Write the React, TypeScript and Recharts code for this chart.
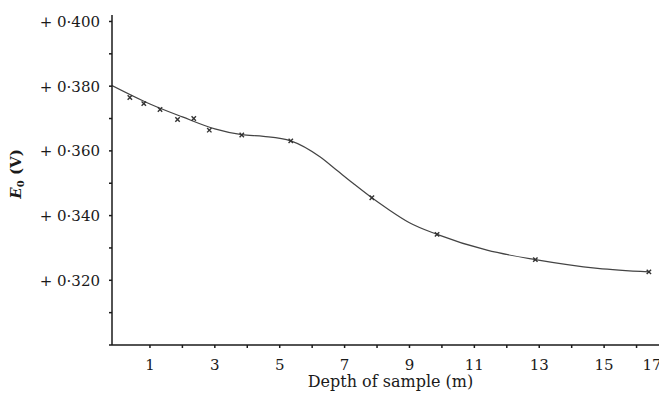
import React from 'react'
import {
  ComposedChart,
  Line,
  Scatter,
  XAxis,
  YAxis,
  Label,
} from 'recharts'

// measured samples (crosses)
const sampleDepth = [0.38, 0.81, 1.31, 1.85, 2.35, 2.83, 3.83, 5.34, 7.84, 9.85, 12.88, 16.38]
const sampleE0 = [0.3765, 0.3746, 0.3728, 0.3697, 0.37, 0.3664, 0.3649, 0.3631, 0.3455, 0.3342, 0.3264, 0.3226]

// hand-drawn smooth curve through the samples
const curveDepth = [-0.17, 1, 2, 3, 3.83, 4.5, 5.34, 6.25, 6.76, 7.27, 7.84, 8.31, 9, 9.85, 11.39, 12.88, 14.8, 16.38]
const curveE0 = [0.3802, 0.3745, 0.3705, 0.3668, 0.365, 0.3645, 0.3631, 0.3581, 0.354, 0.3499, 0.3455, 0.3422, 0.3378, 0.3342, 0.3293, 0.3264, 0.3237, 0.3226]

const xTicks = [1, 2, 3, 4, 5, 6, 7, 8, 9, 10, 11, 12, 13, 14, 15, 16, 17]
const yTicks = [0.3, 0.31, 0.32, 0.33, 0.34, 0.35, 0.36, 0.37, 0.38, 0.39, 0.4]
const yLabelled = [0.32, 0.34, 0.36, 0.38, 0.4]

const samples = sampleDepth.map((d, i) => ({ d, e: sampleE0[i] }))
const curve = curveDepth.map((d, i) => ({ d, e: curveE0[i] }))

const FONT = '"DejaVu Serif", "Liberation Serif", serif'
const INK = '#1a1a1a'

function fmtY(v: number) {
  const hit = yLabelled.some((t) => Math.abs(t - v) < 1e-6)
  return hit ? `+ 0·${Math.round(v * 1000)}` : ''
}

// odd depths only; keep the last label inside the page edge
function XTick(props: any) {
  const { x, y, payload } = props
  const v = payload.value
  if (v % 2 !== 1) return null
  return (
    <text
      x={Math.min(x, 644)}
      y={y}
      dy="0.71em"
      textAnchor="middle"
      fontFamily={FONT}
      fontSize={15}
      fill={INK}
    >
      {v}
    </text>
  )
}

function Cross(props: any) {
  const { cx, cy } = props
  if (cx == null || cy == null) return null
  const s = 2.2
  return (
    <g stroke="#333" strokeWidth={1.4}>
      <line x1={cx - s} y1={cy - s} x2={cx + s} y2={cy + s} />
      <line x1={cx - s} y1={cy + s} x2={cx + s} y2={cy - s} />
    </g>
  )
}

function YTitle(props: any) {
  const { viewBox } = props
  const cx = 8
  const cy = viewBox.y + viewBox.height / 2 - 6
  return (
    <text
      x={cx}
      y={cy}
      transform={`rotate(-90, ${cx}, ${cy})`}
      textAnchor="middle"
      dominantBaseline="central"
      fontFamily={FONT}
      fontSize={15}
      fontWeight="bold"
      fill={INK}
    >
      <tspan fontStyle="italic">E</tspan>
      <tspan fontSize={10} dy={4}>0</tspan>
      <tspan dy={-4}> (V)</tspan>
    </text>
  )
}

export default function App() {
  return (
    <div style={{ width: 659, height: 385, overflow: 'hidden' }}>
      <ComposedChart
        width={680}
        height={385}
        margin={{ top: 7, right: 19, bottom: 0, left: 0 }}
      >
        <XAxis
          type="number"
          dataKey="d"
          domain={[-0.17, 17]}
          ticks={xTicks}
          interval={0}
          allowDataOverflow
          height={48}
          tickSize={3}
          tickMargin={11}
          stroke={INK}
          strokeWidth={1.5}
          tick={<XTick />}
        >
          <Label
            value="Depth of sample (m)"
            position="insideBottom"
            offset={6}
            style={{ fontSize: 16, fontFamily: FONT, fill: INK }}
          />
        </XAxis>
        <YAxis
          type="number"
          domain={[0.3, 0.402]}
          ticks={yTicks}
          tickFormatter={fmtY}
          interval={0}
          allowDataOverflow
          width={104}
          tickSize={3}
          tickMargin={9}
          stroke={INK}
          strokeWidth={1.5}
          tick={{ fontSize: 15, fontFamily: FONT, fill: INK }}
        >
          <Label content={<YTitle />} />
        </YAxis>
        <Line
          data={curve}
          dataKey="e"
          type="monotone"
          stroke="#444"
          strokeWidth={1.2}
          dot={false}
          activeDot={false}
          isAnimationActive={false}
        />
        <Scatter
          data={samples}
          dataKey="e"
          shape={<Cross />}
          isAnimationActive={false}
        />
      </ComposedChart>
    </div>
  )
}
